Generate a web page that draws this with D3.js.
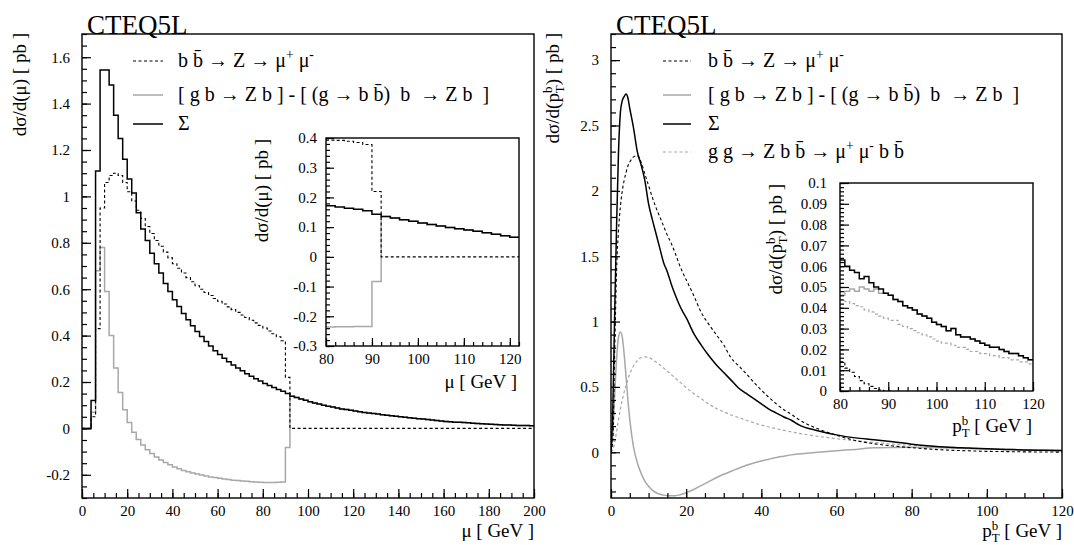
<!DOCTYPE html>
<html>
<head>
<meta charset="utf-8">
<script src="https://cdn.jsdelivr.net/npm/d3@7"></script>
<style>
  body { margin: 0; background: #fff; }
  text { font-family: "Liberation Serif", "Times New Roman", serif; fill: #000; white-space: pre; }
</style>
</head>
<body>
<svg id="chart" width="1074" height="545"></svg>
<script>
// ---- left panel: d sigma / d mu, 2 GeV bins from 0 to 200 ----
const muEdges = d3.range(0, 202, 2);
const sigmaMu = [
  0, 0, 0.12, 1.11, 1.545, 1.545, 1.48, 1.35, 1.25, 1.16,
  1.075, 1.015, 0.93, 0.86, 0.81, 0.755, 0.71, 0.67, 0.625, 0.59,
  0.555, 0.525, 0.495, 0.468, 0.442, 0.418, 0.396, 0.375, 0.355, 0.335,
  0.318, 0.302, 0.287, 0.273, 0.26, 0.248, 0.236, 0.225, 0.214, 0.204,
  0.194, 0.185, 0.176, 0.168, 0.16, 0.15, 0.139, 0.133, 0.127, 0.121,
  0.115, 0.11, 0.105, 0.1, 0.096, 0.092, 0.088, 0.084, 0.081, 0.078,
  0.075, 0.072, 0.069, 0.066, 0.064, 0.062, 0.059, 0.057, 0.054, 0.052,
  0.05, 0.048, 0.046, 0.044, 0.042, 0.04, 0.038, 0.036, 0.034, 0.032,
  0.03, 0.029, 0.027, 0.026, 0.025, 0.024, 0.022, 0.021, 0.02, 0.019,
  0.018, 0.017, 0.016, 0.015, 0.015, 0.014, 0.013, 0.012, 0.012, 0.011
];
const bbMu = [
  0, 0, 0.05, 0.43, 0.95, 1.06, 1.09, 1.1, 1.09, 1.06,
  1.02, 0.98, 0.94, 0.905, 0.87, 0.84, 0.81, 0.785, 0.76, 0.735,
  0.71, 0.69, 0.67, 0.65, 0.632, 0.615, 0.6, 0.586, 0.573, 0.56,
  0.548, 0.536, 0.524, 0.512, 0.5, 0.489, 0.478, 0.466, 0.455, 0.444,
  0.433, 0.42, 0.408, 0.395, 0.378, 0.22, 0, 0, 0, 0,
  0, 0, 0, 0, 0, 0, 0, 0, 0, 0,
  0, 0, 0, 0, 0, 0, 0, 0, 0, 0,
  0, 0, 0, 0, 0, 0, 0, 0, 0, 0,
  0, 0, 0, 0, 0, 0, 0, 0, 0, 0,
  0, 0, 0, 0, 0, 0, 0, 0, 0, 0
];
const gbMu = [
  0, 0, 0.07, 0.68, 0.78, 0.59, 0.4, 0.26, 0.155, 0.08,
  0.025, -0.017, -0.048, -0.072, -0.092, -0.108, -0.123, -0.136, -0.147, -0.157,
  -0.166, -0.174, -0.181, -0.187, -0.192, -0.197, -0.201, -0.205, -0.209, -0.212,
  -0.215, -0.218, -0.22, -0.223, -0.225, -0.227, -0.228, -0.23, -0.231, -0.232,
  -0.233, -0.233, -0.233, -0.232, -0.231, -0.082, 0.139, 0.133, 0.127, 0.121,
  0.115, 0.11, 0.105, 0.1, 0.096, 0.092, 0.088, 0.084, 0.081, 0.078,
  0.075, 0.072, 0.069, 0.066, 0.064, 0.062, 0.059, 0.057, 0.054, 0.052,
  0.05, 0.048, 0.046, 0.044, 0.042, 0.04, 0.038, 0.036, 0.034, 0.032,
  0.03, 0.029, 0.027, 0.026, 0.025, 0.024, 0.022, 0.021, 0.02, 0.019,
  0.018, 0.017, 0.016, 0.015, 0.015, 0.014, 0.013, 0.012, 0.012, 0.011
];

// left inset, 80-122 GeV
const muInsetEdges = d3.range(80, 124, 2);
const sigmaMuInset = [0.172, 0.168, 0.164, 0.16, 0.155, 0.143, 0.136, 0.131, 0.125, 0.12, 0.114,
  0.109, 0.104, 0.099, 0.095, 0.09, 0.086, 0.081, 0.076, 0.071, 0.066];
const bbMuInset = [0.393, 0.392, 0.389, 0.385, 0.378, 0.22, 0, 0, 0, 0, 0,
  0, 0, 0, 0, 0, 0, 0, 0, 0, 0];
const gbMuInset = [-0.236, -0.235, -0.235, -0.234, -0.234, -0.083, 0.136, 0.131, 0.125, 0.12, 0.114,
  0.109, 0.104, 0.099, 0.095, 0.09, 0.086, 0.081, 0.076, 0.071, 0.066];

// ---- right panel: d sigma / d pT(b) ----
const ptGrid = [0, 0.5, 1, 1.5, 2, 2.5, 3, 3.5, 4, 4.5, 5, 6, 7, 8, 9, 10, 11, 12, 13, 14, 15, 16, 17, 18, 19, 20,
  22, 24, 26, 28, 30, 32, 34, 36, 38, 40, 42, 44, 46, 48, 50, 55, 60, 65, 70, 75, 80, 85, 90, 95, 100, 105, 110, 115, 120];
const sigmaPt = [0, 0.35, 1.1, 1.75, 2.3, 2.6, 2.69, 2.72, 2.74, 2.71, 2.63, 2.48, 2.3, 2.2, 2.08, 1.9, 1.78, 1.67, 1.56, 1.45,
  1.38, 1.29, 1.21, 1.14, 1.08, 1.03, 0.91, 0.82, 0.74, 0.67, 0.61, 0.55, 0.49, 0.45, 0.41, 0.37, 0.33, 0.3, 0.27, 0.245,
  0.21, 0.165, 0.133, 0.11, 0.096, 0.08, 0.062, 0.048, 0.038, 0.032, 0.026, 0.022, 0.018, 0.015, 0.013];
const bbPt = [0, 0.1, 0.8, 1.4, 1.7, 1.88, 2.0, 2.08, 2.14, 2.19, 2.22, 2.26, 2.27, 2.22, 2.13, 2.04, 1.95, 1.87, 1.8, 1.73,
  1.66, 1.6, 1.53, 1.45, 1.38, 1.32, 1.2, 1.07, 0.98, 0.9, 0.82, 0.72, 0.66, 0.6, 0.535, 0.475, 0.42, 0.37, 0.325, 0.29,
  0.25, 0.18, 0.13, 0.09, 0.065, 0.048, 0.035, 0.024, 0.016, 0.011, 0.007, 0.005, 0.003, 0.002, 0.001];
const gbPt = [0, 0.15, 0.45, 0.72, 0.88, 0.92, 0.88, 0.75, 0.58, 0.4, 0.25, 0.04, -0.08, -0.16, -0.22, -0.26, -0.29, -0.31, -0.322, -0.328,
  -0.332, -0.333, -0.332, -0.328, -0.32, -0.31, -0.285, -0.255, -0.225, -0.195, -0.168, -0.145, -0.122, -0.1, -0.082, -0.067, -0.053, -0.04, -0.03, -0.02,
  -0.013, 0.0, 0.012, 0.022, 0.034, 0.037, 0.038, 0.036, 0.033, 0.029, 0.025, 0.021, 0.018, 0.015, 0.012];
const ggPt = [0, 0.02, 0.08, 0.16, 0.25, 0.33, 0.4, 0.46, 0.51, 0.56, 0.6, 0.66, 0.7, 0.725, 0.73, 0.725, 0.71, 0.69, 0.67, 0.645,
  0.62, 0.595, 0.57, 0.545, 0.52, 0.495, 0.45, 0.41, 0.37, 0.335, 0.31, 0.285, 0.265, 0.245, 0.225, 0.208, 0.193, 0.18, 0.168, 0.156,
  0.145, 0.122, 0.104, 0.088, 0.075, 0.062, 0.053, 0.045, 0.038, 0.032, 0.027, 0.023, 0.019, 0.016, 0.014];

// right inset, 1 GeV bins 80-120
const ptInsetEdges = d3.range(80, 121, 1);
const sigmaPtInset = [0.063, 0.06, 0.058, 0.057, 0.054, 0.055, 0.052, 0.05, 0.049, 0.047,
  0.046, 0.044, 0.043, 0.041, 0.04, 0.039, 0.037, 0.036, 0.035, 0.033,
  0.032, 0.031, 0.029, 0.03, 0.027, 0.026, 0.026, 0.025, 0.024, 0.023,
  0.022, 0.021, 0.021, 0.02, 0.019, 0.018, 0.018, 0.017, 0.016, 0.015];
const gbPtInset = [0.046, 0.048, 0.049, 0.048, 0.05, 0.049, 0.048, 0.049, 0.047, 0.047,
  0.046, 0.044, 0.043, 0.041, 0.04, 0.039, 0.037, 0.036, 0.035, 0.033,
  0.032, 0.031, 0.029, 0.03, 0.027, 0.026, 0.026, 0.025, 0.024, 0.023,
  0.022, 0.021, 0.021, 0.02, 0.019, 0.018, 0.018, 0.017, 0.016, 0.015];
const ggPtInset = [0.044, 0.043, 0.042, 0.041, 0.0405, 0.039, 0.038, 0.037, 0.036, 0.035,
  0.034, 0.034, 0.032, 0.031, 0.03, 0.029, 0.028, 0.027, 0.026, 0.025,
  0.024, 0.023, 0.023, 0.022, 0.021, 0.021, 0.02, 0.019, 0.019, 0.018,
  0.018, 0.017, 0.017, 0.016, 0.016, 0.015, 0.015, 0.014, 0.014, 0.013];
const bbPtInset = [0.014, 0.011, 0.009, 0.007, 0.005, 0.0035, 0.0022, 0.0012, 0.0005, 0, 0];

const GRAY = "#a8a8a8";
const FONT = "'Liberation Serif', 'Times New Roman', serif";
const svg = d3.select("#chart");
let clipId = 0;

// frame, inward ticks and labels for one set of axes; returns a clipped group for curves
function makeAxes(x, y, o) {
  const [x0, x1] = x.range();
  const [y0, y1] = y.range();
  const g = svg.append("g");
  g.append("rect")
    .attr("x", x0).attr("y", y1).attr("width", x1 - x0).attr("height", y0 - y1)
    .attr("fill", "#fff");

  const id = "clip" + (clipId++);
  g.append("clipPath").attr("id", id).append("rect")
    .attr("x", x0).attr("y", y1).attr("width", x1 - x0).attr("height", y0 - y1);
  const plot = g.append("g").attr("clip-path", `url(#${id})`);

  const fmt = (d) => String(+d.toFixed(3));
  const over = g.append("g");

  const style = (sel) => {
    sel.select(".domain").remove();
    sel.attr("font-family", FONT).attr("font-size", o.fs || 15);
    sel.selectAll("text").attr("font-family", FONT);
    sel.selectAll("line").attr("stroke", "#000").attr("stroke-width", 1.2);
  };

  over.append("g").attr("transform", `translate(0,${y0})`)
    .call(d3.axisBottom(x).tickValues(o.xMinor).tickSize(-o.min).tickFormat(""))
    .call(style);
  over.append("g").attr("transform", `translate(0,${y0})`)
    .call(d3.axisBottom(x).tickValues(o.xMajor).tickSize(-o.maj).tickPadding(o.xPad).tickFormat(fmt))
    .call(style);
  over.append("g").attr("transform", `translate(${x0},0)`)
    .call(d3.axisLeft(y).tickValues(o.yMinor).tickSize(-o.min).tickFormat(""))
    .call(style);
  over.append("g").attr("transform", `translate(${x0},0)`)
    .call(d3.axisLeft(y).tickValues(o.yMajor).tickSize(-o.maj).tickPadding(o.yPad).tickFormat(fmt))
    .call(style);

  over.append("rect")
    .attr("x", x0).attr("y", y1).attr("width", x1 - x0).attr("height", y0 - y1)
    .attr("fill", "none").attr("stroke", "#000").attr("stroke-width", 1.4);

  return { plot, over };
}

function histo(plot, x, y, edges, vals, st) {
  const pts = edges.map((e, i) => [e, vals[Math.min(i, vals.length - 1)]]);
  const line = d3.line().x((d) => x(d[0])).y((d) => y(d[1])).curve(d3.curveStepAfter);
  drawPath(plot, line(pts), st);
}

function curve(plot, x, y, xs, vals, st) {
  const pts = xs.map((v, i) => [v, vals[i]]);
  const line = d3.line().x((d) => x(d[0])).y((d) => y(d[1])).curve(d3.curveMonotoneX);
  drawPath(plot, line(pts), st);
}

const STY = {
  black: { stroke: "#000", width: 1.5 },
  gray: { stroke: GRAY, width: 1.5 },
  dash: { stroke: "#000", width: 1.1, dash: "3,2.5" },
  grayDash: { stroke: GRAY, width: 1.2, dash: "3,2.5" }
};

function drawPath(plot, d, st) {
  plot.append("path").attr("d", d)
    .attr("fill", "none")
    .attr("stroke", st.stroke)
    .attr("stroke-width", st.width)
    .attr("stroke-dasharray", st.dash || null);
}

// text made of plain, superscript and subscript pieces
function addParts(text, parts, fs) {
  let shift = 0;
  parts.forEach((p) => {
    if (typeof p === "string") p = { t: p };
    const target = p.sup ? -fs * 0.38 : p.sub ? fs * 0.25 : 0;
    const ts = text.append("tspan").attr("dy", target - shift).text(p.t);
    if (p.sup || p.sub) ts.attr("font-size", fs * 0.68);
    if (p.dx) ts.attr("dx", p.dx);
    shift = target;
  });
}

function label(x, y, parts, fs, anchor, rotate) {
  const t = svg.append("text")
    .attr("font-family", FONT)
    .attr("font-size", fs)
    .attr("text-anchor", anchor || "start")
    .attr("transform", `translate(${x},${y})` + (rotate ? " rotate(-90)" : ""));
  addParts(t, parts, fs);
  return t;
}

function legend(x0, x1, xt, y, st, parts) {
  svg.append("line").attr("x1", x0).attr("x2", x1).attr("y1", y).attr("y2", y)
    .attr("stroke", st.stroke).attr("stroke-width", st.width)
    .attr("stroke-dasharray", st.dash || null);
  label(xt, y + 6, parts, 20);
}

const bbar = "b b\u0304";
const arr = " \u2192 ";
const muLabel = ["d\u03c3/d(\u03bc) [ pb ]"];
const ptLabel = ["d\u03c3/d(p", { t: "b", sup: true }, { t: "T", sub: true, dx: -6.5 }, ") [ pb ]"];
const ptAxis = ["p", { t: "b", sup: true }, { t: "T", sub: true, dx: -6.5 }, " [ GeV ]"];
const legBb = [bbar + arr + "Z" + arr + "\u03bc", { t: "+", sup: true }, " \u03bc", { t: "-", sup: true }];
const legGb = ["[ g b" + arr + "Z b ] - [ (g" + arr + bbar + ")  b " + arr + "Z b  ]"];
const legSum = ["\u03a3"];
const legGg = ["g g" + arr + "Z " + bbar + arr + "\u03bc", { t: "+", sup: true }, " \u03bc", { t: "-", sup: true }, " " + bbar];

// ================= left panel =================
{
  const x = d3.scaleLinear().domain([0, 200]).range([82, 534]);
  const y = d3.scaleLinear().domain([-0.3, 1.7]).range([498, 34]);
  const ax = makeAxes(x, y, {
    xMajor: d3.range(0, 201, 20), xMinor: d3.range(0, 201, 5),
    yMajor: d3.range(-1, 9).map((i) => i * 0.2), yMinor: d3.range(-6, 35).map((i) => i * 0.05),
    maj: 9, min: 5, xPad: 7, yPad: 12
  });
  histo(ax.plot, x, y, muEdges, gbMu, STY.gray);
  histo(ax.plot, x, y, muEdges, bbMu, STY.dash);
  histo(ax.plot, x, y, muEdges, sigmaMu, STY.black);

  label(87, 34, ["CTEQ5L"], 27);
  label(534, 537, ["\u03bc [ GeV ]"], 19, "end");
  label(26, 33, muLabel, 19, "end", true);

  legend(133, 163, 178, 61, STY.dash, legBb);
  legend(133, 163, 178, 95, STY.gray, legGb);
  legend(133, 163, 178, 124, STY.black, legSum);

  // inset
  const xi = d3.scaleLinear().domain([80, 122]).range([326, 519]);
  const yi = d3.scaleLinear().domain([-0.3, 0.4]).range([346, 138]);
  const ai = makeAxes(xi, yi, {
    xMajor: d3.range(80, 121, 10), xMinor: d3.range(80, 123, 2),
    yMajor: d3.range(-3, 5).map((i) => i * 0.1), yMinor: d3.range(-15, 21).map((i) => i * 0.02),
    maj: 8, min: 4, xPad: 7, yPad: 9
  });
  histo(ai.plot, xi, yi, muInsetEdges, gbMuInset, STY.gray);
  histo(ai.plot, xi, yi, muInsetEdges, bbMuInset, STY.dash);
  histo(ai.plot, xi, yi, muInsetEdges, sigmaMuInset, STY.black);
  label(517, 388, ["\u03bc [ GeV ]"], 19, "end");
  label(268, 139, muLabel, 19, "end", true);
}

// ================= right panel =================
{
  const x = d3.scaleLinear().domain([0, 120]).range([611, 1062]);
  const y = d3.scaleLinear().domain([-0.35, 3.2]).range([498, 34]);
  const ax = makeAxes(x, y, {
    xMajor: d3.range(0, 121, 20), xMinor: d3.range(0, 121, 5),
    yMajor: d3.range(0, 7).map((i) => i * 0.5), yMinor: d3.range(-3, 33).map((i) => i * 0.1),
    maj: 9, min: 5, xPad: 7, yPad: 12
  });
  curve(ax.plot, x, y, ptGrid, ggPt, STY.grayDash);
  curve(ax.plot, x, y, ptGrid, gbPt, STY.gray);
  curve(ax.plot, x, y, ptGrid, bbPt, STY.dash);
  curve(ax.plot, x, y, ptGrid, sigmaPt, STY.black);

  label(616, 34, ["CTEQ5L"], 27);
  label(1062, 537, ptAxis, 19, "end");
  label(559, 33, ptLabel, 19, "end", true);

  legend(663, 691, 708, 61, STY.dash, legBb);
  legend(663, 691, 708, 95, STY.gray, legGb);
  legend(663, 691, 708, 124, STY.black, legSum);
  legend(663, 691, 708, 152, STY.grayDash, legGg);

  // inset
  const xi = d3.scaleLinear().domain([80, 120]).range([840, 1033]);
  const yi = d3.scaleLinear().domain([0, 0.1]).range([391, 183]);
  const ai = makeAxes(xi, yi, {
    xMajor: d3.range(80, 121, 10), xMinor: d3.range(80, 121, 2),
    yMajor: d3.range(0, 11).map((i) => i * 0.01), yMinor: d3.range(0, 51).map((i) => i * 0.002),
    maj: 9, min: 4, xPad: 7, yPad: 13
  });
  histo(ai.plot, xi, yi, ptInsetEdges, ggPtInset, STY.grayDash);
  histo(ai.plot, xi, yi, ptInsetEdges, gbPtInset, STY.gray);
  histo(ai.plot, xi, yi, ptInsetEdges.slice(0, 12), bbPtInset, STY.dash);
  histo(ai.plot, xi, yi, ptInsetEdges, sigmaPtInset, STY.black);
  label(1032, 432, ptAxis, 19, "end");
  label(782, 184, ptLabel, 19, "end", true);
}
</script>
</body>
</html>
